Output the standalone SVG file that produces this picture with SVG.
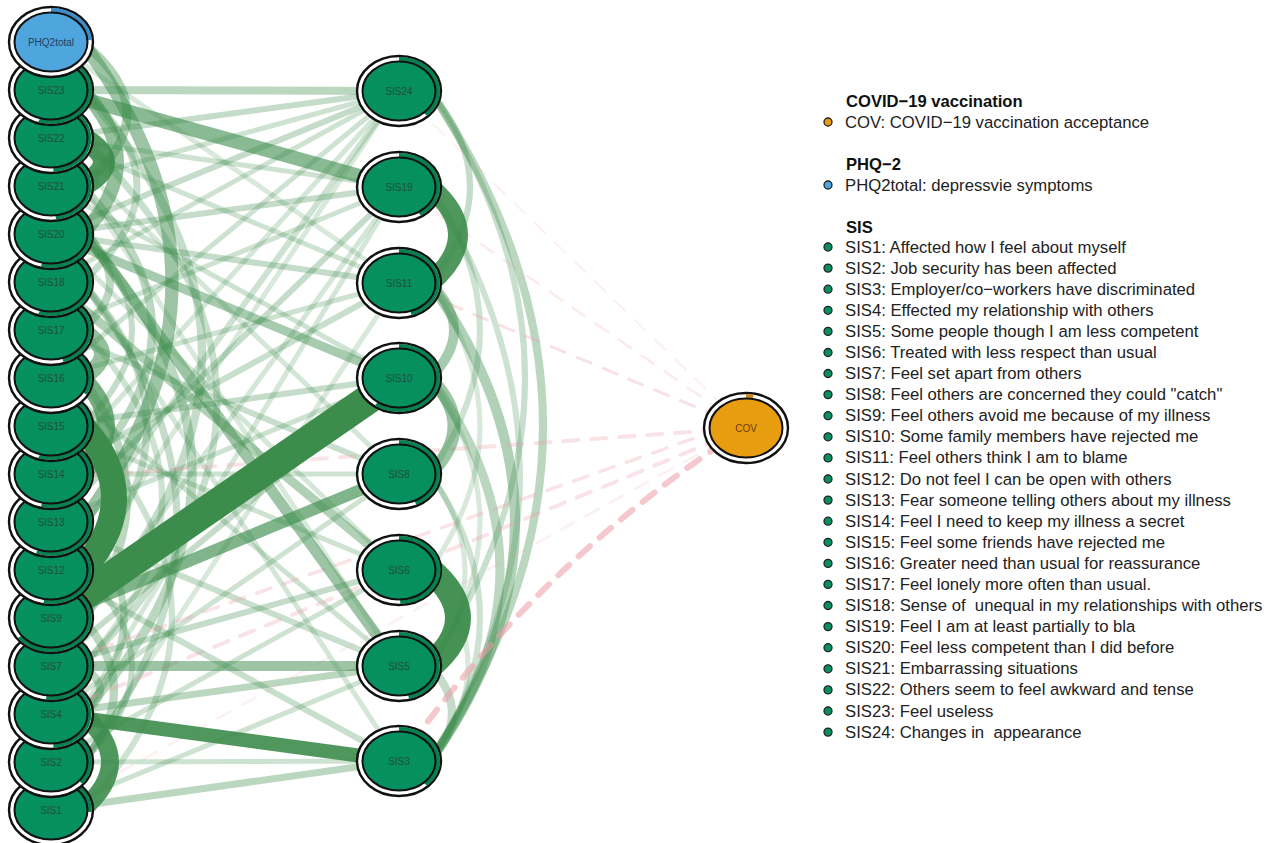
<svg xmlns="http://www.w3.org/2000/svg" width="1272" height="843" viewBox="0 0 1272 843">
<style>
.e{fill:none;stroke:#3c8c4b;stroke-linecap:butt}
.neg{fill:none;stroke:#ec9aa4;stroke-dasharray:15 13;stroke-linecap:round}
.ring{fill:#fff;stroke:#111;stroke-width:2.4}
.core{stroke:#111;stroke-width:2}
.sis .core{fill:#07905f}
.sis .pie{fill:#07804f}
.phq .core{fill:#4fa5dd}
.phq .pie{fill:#3a8bc8}
.cov .core{fill:#e89c0f}
.cov .pie{fill:#c98a1e}
.node text{font-family:"Liberation Sans",Arial,sans-serif;font-size:10px;text-anchor:middle}
.sis text{fill:#1f4f39}
.phq text{fill:#243f5c}
.cov text{fill:#6a3c12}
.lg{font-family:"Liberation Sans",Arial,sans-serif;font-size:16.7px;fill:#222;white-space:pre}
.lh{font-family:"Liberation Sans",Arial,sans-serif;font-size:16.6px;font-weight:bold;fill:#111}
.dot{stroke:#222;stroke-width:1.3}
</style>
<rect width="1272" height="843" fill="#fff"/>
<g id="edges">
<line class="e" x1="51" y1="138" x2="399" y2="91" stroke-width="6" stroke-opacity=".3"/>
<line class="e" x1="51" y1="186" x2="399" y2="91" stroke-width="5" stroke-opacity=".25"/>
<line class="e" x1="51" y1="234" x2="399" y2="91" stroke-width="6" stroke-opacity=".3"/>
<line class="e" x1="51" y1="282" x2="399" y2="91" stroke-width="5" stroke-opacity=".25"/>
<line class="e" x1="51" y1="378" x2="399" y2="91" stroke-width="5" stroke-opacity=".25"/>
<line class="e" x1="51" y1="474" x2="399" y2="91" stroke-width="5" stroke-opacity=".22"/>
<line class="e" x1="51" y1="570" x2="399" y2="91" stroke-width="6" stroke-opacity=".25"/>
<line class="e" x1="51" y1="618" x2="399" y2="91" stroke-width="5" stroke-opacity=".2"/>
<line class="e" x1="51" y1="138" x2="399" y2="187" stroke-width="5" stroke-opacity=".25"/>
<line class="e" x1="51" y1="234" x2="399" y2="187" stroke-width="6" stroke-opacity=".3"/>
<line class="e" x1="51" y1="330" x2="399" y2="187" stroke-width="5" stroke-opacity=".25"/>
<line class="e" x1="51" y1="522" x2="399" y2="187" stroke-width="6" stroke-opacity=".3"/>
<line class="e" x1="51" y1="666" x2="399" y2="187" stroke-width="5" stroke-opacity=".22"/>
<line class="e" x1="51" y1="762" x2="399" y2="187" stroke-width="5" stroke-opacity=".22"/>
<line class="e" x1="51" y1="42" x2="399" y2="283" stroke-width="5" stroke-opacity=".2"/>
<line class="e" x1="51" y1="138" x2="399" y2="283" stroke-width="5" stroke-opacity=".25"/>
<line class="e" x1="51" y1="234" x2="399" y2="283" stroke-width="6" stroke-opacity=".3"/>
<line class="e" x1="51" y1="378" x2="399" y2="283" stroke-width="5" stroke-opacity=".25"/>
<line class="e" x1="51" y1="474" x2="399" y2="283" stroke-width="6" stroke-opacity=".28"/>
<line class="e" x1="51" y1="810" x2="399" y2="283" stroke-width="5" stroke-opacity=".2"/>
<line class="e" x1="51" y1="186" x2="399" y2="378" stroke-width="5" stroke-opacity=".25"/>
<line class="e" x1="51" y1="426" x2="399" y2="378" stroke-width="6" stroke-opacity=".3"/>
<line class="e" x1="51" y1="522" x2="399" y2="378" stroke-width="5" stroke-opacity=".25"/>
<line class="e" x1="51" y1="666" x2="399" y2="378" stroke-width="6" stroke-opacity=".3"/>
<line class="e" x1="51" y1="138" x2="399" y2="474" stroke-width="5" stroke-opacity=".22"/>
<line class="e" x1="51" y1="330" x2="399" y2="474" stroke-width="6" stroke-opacity=".28"/>
<line class="e" x1="51" y1="474" x2="399" y2="474" stroke-width="5" stroke-opacity=".25"/>
<line class="e" x1="51" y1="714" x2="399" y2="474" stroke-width="5" stroke-opacity=".25"/>
<line class="e" x1="51" y1="234" x2="399" y2="570" stroke-width="5" stroke-opacity=".22"/>
<line class="e" x1="51" y1="426" x2="399" y2="570" stroke-width="5" stroke-opacity=".25"/>
<line class="e" x1="51" y1="666" x2="399" y2="570" stroke-width="6" stroke-opacity=".3"/>
<line class="e" x1="51" y1="762" x2="399" y2="570" stroke-width="5" stroke-opacity=".25"/>
<line class="e" x1="51" y1="138" x2="399" y2="666" stroke-width="5" stroke-opacity=".2"/>
<line class="e" x1="51" y1="378" x2="399" y2="666" stroke-width="5" stroke-opacity=".25"/>
<line class="e" x1="51" y1="522" x2="399" y2="666" stroke-width="6" stroke-opacity=".28"/>
<line class="e" x1="51" y1="810" x2="399" y2="666" stroke-width="5" stroke-opacity=".25"/>
<line class="e" x1="51" y1="714" x2="399" y2="666" stroke-width="7" stroke-opacity=".35"/>
<line class="e" x1="51" y1="234" x2="399" y2="761" stroke-width="5" stroke-opacity=".22"/>
<line class="e" x1="51" y1="570" x2="399" y2="761" stroke-width="6" stroke-opacity=".28"/>
<line class="e" x1="51" y1="762" x2="399" y2="761" stroke-width="5" stroke-opacity=".25"/>
<line class="e" x1="51" y1="810" x2="399" y2="761" stroke-width="7" stroke-opacity=".35"/>
<path class="e" d="M82,90 Q322,354 82,618" stroke-width="8" stroke-opacity=".3"/>
<path class="e" d="M82,138 Q352,402 82,666" stroke-width="7" stroke-opacity=".28"/>
<path class="e" d="M82,234 Q302,474 82,714" stroke-width="9" stroke-opacity=".35"/>
<path class="e" d="M82,282 Q272,522 82,762" stroke-width="7" stroke-opacity=".3"/>
<path class="e" d="M82,186 Q222,330 82,474" stroke-width="8" stroke-opacity=".35"/>
<path class="e" d="M82,378 Q172,498 82,618" stroke-width="8" stroke-opacity=".35"/>
<path class="e" d="M82,234 Q182,330 82,426" stroke-width="6" stroke-opacity=".3"/>
<path class="e" d="M82,522 Q166,618 82,714" stroke-width="7" stroke-opacity=".35"/>
<path class="e" d="M82,570 Q182,666 82,762" stroke-width="6" stroke-opacity=".3"/>
<path class="e" d="M82,282 Q212,426 82,570" stroke-width="7" stroke-opacity=".3"/>
<path class="e" d="M82,330 Q242,498 82,666" stroke-width="6" stroke-opacity=".25"/>
<path class="e" d="M82,426 Q262,618 82,810" stroke-width="6" stroke-opacity=".25"/>
<path class="e" d="M82,618 Q146,690 82,762" stroke-width="8" stroke-opacity=".35"/>
<path class="e" d="M82,666 Q118,690 82,714" stroke-width="8" stroke-opacity=".35"/>
<path class="e" d="M82,90 Q192,186 82,282" stroke-width="7" stroke-opacity=".3"/>
<path class="e" d="M82,234 Q138,282 82,330" stroke-width="8" stroke-opacity=".35"/>
<path class="e" d="M82,42 Q172,114 82,186" stroke-width="9" stroke-opacity=".4"/>
<path class="e" d="M82,42 Q262,282 82,522" stroke-width="13" stroke-opacity=".5"/>
<path class="e" d="M430,91 Q656,426 430,761" stroke-width="8" stroke-opacity=".35"/>
<path class="e" d="M430,91 Q620,378 430,666" stroke-width="6" stroke-opacity=".28"/>
<path class="e" d="M430,187 Q610,474 430,761" stroke-width="6" stroke-opacity=".25"/>
<path class="e" d="M430,283 Q600,522 430,761" stroke-width="10" stroke-opacity=".4"/>
<path class="e" d="M430,378 Q570,570 430,761" stroke-width="9" stroke-opacity=".35"/>
<path class="e" d="M430,91 Q510,187 430,283" stroke-width="6" stroke-opacity=".3"/>
<path class="e" d="M430,187 Q530,330 430,474" stroke-width="6" stroke-opacity=".25"/>
<path class="e" d="M430,283 Q530,426 430,570" stroke-width="5" stroke-opacity=".2"/>
<path class="e" d="M430,474 Q500,570 430,666" stroke-width="5" stroke-opacity=".2"/>
<path class="e" d="M430,378 Q530,522 430,666" stroke-width="5" stroke-opacity=".2"/>
<path class="e" d="M430,474 Q530,618 430,761" stroke-width="6" stroke-opacity=".25"/>
<path class="e" d="M430,666 Q474,713 430,761" stroke-width="8" stroke-opacity=".3"/>
<path class="e" d="M430,570 Q506,666 430,761" stroke-width="5" stroke-opacity=".2"/>
<line class="neg" x1="746" y1="428" x2="399" y2="91" stroke-width="2" stroke-opacity=".15"/>
<line class="neg" x1="746" y1="428" x2="399" y2="187" stroke-width="2.5" stroke-opacity=".2"/>
<line class="neg" x1="746" y1="428" x2="399" y2="283" stroke-width="3" stroke-opacity=".3"/>
<line class="neg" x1="746" y1="428" x2="51" y2="478" stroke-width="4" stroke-opacity=".28"/>
<line class="neg" x1="746" y1="420" x2="51" y2="666" stroke-width="3.5" stroke-opacity=".28"/>
<line class="neg" x1="746" y1="428" x2="51" y2="714" stroke-width="4" stroke-opacity=".28"/>
<line class="neg" x1="746" y1="428" x2="51" y2="810" stroke-width="2.5" stroke-opacity=".15"/>
<path class="neg" d="M746,428 Q540,560 399,761" stroke-width="6" stroke-opacity=".55"/>
<line class="e" x1="51" y1="90" x2="399" y2="91" stroke-width="8" stroke-opacity=".35"/>
<line class="e" x1="51" y1="234" x2="399" y2="378" stroke-width="9" stroke-opacity=".45"/>
<line class="e" x1="51" y1="282" x2="399" y2="570" stroke-width="9" stroke-opacity=".4"/>
<line class="e" x1="51" y1="186" x2="399" y2="666" stroke-width="11" stroke-opacity=".5"/>
<line class="e" x1="51" y1="666" x2="399" y2="666" stroke-width="10" stroke-opacity=".5"/>
<line class="e" x1="51" y1="90" x2="399" y2="187" stroke-width="14" stroke-opacity=".6"/>
<line class="e" x1="51" y1="618" x2="399" y2="474" stroke-width="12" stroke-opacity=".65"/>
<path class="e" d="M430,283 Q478,330 430,378" stroke-width="10" stroke-opacity=".45"/>
<path class="e" d="M430,378 Q478,426 430,474" stroke-width="13" stroke-opacity=".5"/>
<path class="e" d="M82,90 Q152,162 82,234" stroke-width="14" stroke-opacity=".55"/>
<path class="e" d="M82,330 Q122,354 82,378" stroke-width="16" stroke-opacity=".55"/>
<path class="e" d="M82,378 Q130,426 82,474" stroke-width="18" stroke-opacity=".7"/>
<path class="e" d="M82,138 Q126,162 82,186" stroke-width="22" stroke="#2f7d3c" stroke-opacity=".9"/>
<path class="e" d="M82,714 Q138,762 82,810" stroke-width="18" stroke="#4a9856" stroke-opacity=".9"/>
<path class="e" d="M430,187 Q486,235 430,283" stroke-width="20" stroke="#4a9958" stroke-opacity=".9"/>
<path class="e" d="M430,570 Q486,618 430,666" stroke-width="26" stroke="#3a8a46" stroke-opacity=".95"/>
<line class="e" x1="51" y1="714" x2="399" y2="761" stroke-width="14" stroke="#3d8b4a" stroke-opacity=".9"/>
<path class="e" d="M82,426 Q146,498 82,570" stroke-width="26" stroke="#236a2e"/>
<line class="e" x1="51" y1="618" x2="399" y2="378" stroke-width="30" stroke="#1f5d28"/>
</g>
<g id="nodes">
<g id="n-SIS1" class="node sis"><ellipse class="ring" cx="51" cy="810" rx="42" ry="35"/><path class="pie" d="M51,810 L51,776 A41,34 0 0 1 91.9,812.1 Z"/><ellipse class="core" cx="51" cy="810" rx="36.5" ry="29.5"/><text x="51" y="813.5">SIS1</text></g>
<g id="n-SIS2" class="node sis"><ellipse class="ring" cx="51" cy="762" rx="42" ry="35"/><path class="pie" d="M51,762 L51,728 A41,34 0 0 1 82.6,783.7 Z"/><ellipse class="core" cx="51" cy="762" rx="36.5" ry="29.5"/><text x="51" y="765.5">SIS2</text></g>
<g id="n-SIS4" class="node sis"><ellipse class="ring" cx="51" cy="714" rx="42" ry="35"/><path class="pie" d="M51,714 L51,680 A41,34 0 0 1 53.6,747.9 Z"/><ellipse class="core" cx="51" cy="714" rx="36.5" ry="29.5"/><text x="51" y="717.5">SIS4</text></g>
<g id="n-SIS7" class="node sis"><ellipse class="ring" cx="51" cy="666" rx="42" ry="35"/><path class="pie" d="M51,666 L51,632 A41,34 0 1 1 45.9,699.7 Z"/><ellipse class="core" cx="51" cy="666" rx="36.5" ry="29.5"/><text x="51" y="669.5">SIS7</text></g>
<g id="n-SIS9" class="node sis"><ellipse class="ring" cx="51" cy="618" rx="42" ry="35"/><path class="pie" d="M51,618 L51,584 A41,34 0 1 1 17.8,638 Z"/><ellipse class="core" cx="51" cy="618" rx="36.5" ry="29.5"/><text x="51" y="621.5">SIS9</text></g>
<g id="n-SIS12" class="node sis"><ellipse class="ring" cx="51" cy="570" rx="42" ry="35"/><path class="pie" d="M51,570 L51,536 A41,34 0 1 1 43.3,603.4 Z"/><ellipse class="core" cx="51" cy="570" rx="36.5" ry="29.5"/><text x="51" y="573.5">SIS12</text></g>
<g id="n-SIS13" class="node sis"><ellipse class="ring" cx="51" cy="522" rx="42" ry="35"/><path class="pie" d="M51,522 L51,488 A41,34 0 1 1 35.9,553.6 Z"/><ellipse class="core" cx="51" cy="522" rx="36.5" ry="29.5"/><text x="51" y="525.5">SIS13</text></g>
<g id="n-SIS14" class="node sis"><ellipse class="ring" cx="51" cy="474" rx="42" ry="35"/><path class="pie" d="M51,474 L51,440 A41,34 0 1 1 40.8,506.9 Z"/><ellipse class="core" cx="51" cy="474" rx="36.5" ry="29.5"/><text x="51" y="477.5">SIS14</text></g>
<g id="n-SIS15" class="node sis"><ellipse class="ring" cx="51" cy="426" rx="42" ry="35"/><path class="pie" d="M51,426 L51,392 A41,34 0 1 1 38.3,458.3 Z"/><ellipse class="core" cx="51" cy="426" rx="36.5" ry="29.5"/><text x="51" y="429.5">SIS15</text></g>
<g id="n-SIS16" class="node sis"><ellipse class="ring" cx="51" cy="378" rx="42" ry="35"/><path class="pie" d="M51,378 L51,344 A41,34 0 0 1 86.9,394.4 Z"/><ellipse class="core" cx="51" cy="378" rx="36.5" ry="29.5"/><text x="51" y="381.5">SIS16</text></g>
<g id="n-SIS17" class="node sis"><ellipse class="ring" cx="51" cy="330" rx="42" ry="35"/><path class="pie" d="M51,330 L51,296 A41,34 0 0 1 63.7,362.3 Z"/><ellipse class="core" cx="51" cy="330" rx="36.5" ry="29.5"/><text x="51" y="333.5">SIS17</text></g>
<g id="n-SIS18" class="node sis"><ellipse class="ring" cx="51" cy="282" rx="42" ry="35"/><path class="pie" d="M51,282 L51,248 A41,34 0 1 1 38.3,314.3 Z"/><ellipse class="core" cx="51" cy="282" rx="36.5" ry="29.5"/><text x="51" y="285.5">SIS18</text></g>
<g id="n-SIS20" class="node sis"><ellipse class="ring" cx="51" cy="234" rx="42" ry="35"/><path class="pie" d="M51,234 L51,200 A41,34 0 1 1 40.8,266.9 Z"/><ellipse class="core" cx="51" cy="234" rx="36.5" ry="29.5"/><text x="51" y="237.5">SIS20</text></g>
<g id="n-SIS21" class="node sis"><ellipse class="ring" cx="51" cy="186" rx="42" ry="35"/><path class="pie" d="M51,186 L51,152 A41,34 0 0 1 56.1,219.7 Z"/><ellipse class="core" cx="51" cy="186" rx="36.5" ry="29.5"/><text x="51" y="189.5">SIS21</text></g>
<g id="n-SIS22" class="node sis"><ellipse class="ring" cx="51" cy="138" rx="42" ry="35"/><path class="pie" d="M51,138 L51,104 A41,34 0 0 1 53.6,171.9 Z"/><ellipse class="core" cx="51" cy="138" rx="36.5" ry="29.5"/><text x="51" y="141.5">SIS22</text></g>
<g id="n-SIS23" class="node sis"><ellipse class="ring" cx="51" cy="90" rx="42" ry="35"/><path class="pie" d="M51,90 L51,56 A41,34 0 1 1 38.3,122.3 Z"/><ellipse class="core" cx="51" cy="90" rx="36.5" ry="29.5"/><text x="51" y="93.5">SIS23</text></g>
<g id="n-PHQ2total" class="node phq"><ellipse class="ring" cx="51" cy="42" rx="42" ry="35"/><path class="pie" d="M51,42 L51,8 A41,34 0 0 1 91.9,39.9 Z"/><ellipse class="core" cx="51" cy="42" rx="36.5" ry="29.5"/><text x="51" y="45.5">PHQ2total</text></g>
<g id="n-SIS24" class="node sis"><ellipse class="ring" cx="399" cy="91" rx="42" ry="35"/><path class="pie" d="M399,91 L399,57 A41,34 0 0 1 427.1,115.8 Z"/><ellipse class="core" cx="399" cy="91" rx="36.5" ry="29.5"/><text x="399" y="94.5">SIS24</text></g>
<g id="n-SIS19" class="node sis"><ellipse class="ring" cx="399" cy="187" rx="42" ry="35"/><path class="pie" d="M399,187 L399,153 A41,34 0 0 1 421,215.7 Z"/><ellipse class="core" cx="399" cy="187" rx="36.5" ry="29.5"/><text x="399" y="190.5">SIS19</text></g>
<g id="n-SIS11" class="node sis"><ellipse class="ring" cx="399" cy="283" rx="42" ry="35"/><path class="pie" d="M399,283 L399,249 A41,34 0 0 1 411.7,315.3 Z"/><ellipse class="core" cx="399" cy="283" rx="36.5" ry="29.5"/><text x="399" y="286.5">SIS11</text></g>
<g id="n-SIS10" class="node sis"><ellipse class="ring" cx="399" cy="378" rx="42" ry="35"/><path class="pie" d="M399,378 L399,344 A41,34 0 1 1 374.9,405.5 Z"/><ellipse class="core" cx="399" cy="378" rx="36.5" ry="29.5"/><text x="399" y="381.5">SIS10</text></g>
<g id="n-SIS8" class="node sis"><ellipse class="ring" cx="399" cy="474" rx="42" ry="35"/><path class="pie" d="M399,474 L399,440 A41,34 0 0 1 416.5,504.8 Z"/><ellipse class="core" cx="399" cy="474" rx="36.5" ry="29.5"/><text x="399" y="477.5">SIS8</text></g>
<g id="n-SIS6" class="node sis"><ellipse class="ring" cx="399" cy="570" rx="42" ry="35"/><path class="pie" d="M399,570 L399,536 A41,34 0 0 1 400.3,604 Z"/><ellipse class="core" cx="399" cy="570" rx="36.5" ry="29.5"/><text x="399" y="573.5">SIS6</text></g>
<g id="n-SIS5" class="node sis"><ellipse class="ring" cx="399" cy="666" rx="42" ry="35"/><path class="pie" d="M399,666 L399,632 A41,34 0 0 1 409.2,698.9 Z"/><ellipse class="core" cx="399" cy="666" rx="36.5" ry="29.5"/><text x="399" y="669.5">SIS5</text></g>
<g id="n-SIS3" class="node sis"><ellipse class="ring" cx="399" cy="761" rx="42" ry="35"/><path class="pie" d="M399,761 L399,727 A41,34 0 0 1 427.1,785.8 Z"/><ellipse class="core" cx="399" cy="761" rx="36.5" ry="29.5"/><text x="399" y="764.5">SIS3</text></g>
<g id="n-COV" class="node cov"><ellipse class="ring" cx="746" cy="428" rx="42" ry="35"/><path class="pie" d="M746,428 L746,394 A41,34 0 0 1 753.7,394.6 Z"/><ellipse class="core" cx="746" cy="428" rx="36.5" ry="29.5"/><text x="746" y="431.5">COV</text></g>
</g>
<g id="legend">
<text class="lh" x="846" y="107">COVID−19 vaccination</text>
<circle class="dot" cx="828" cy="122" r="4" fill="#e89c0f"/>
<text class="lg" x="845" y="128">COV: COVID−19 vaccination acceptance</text>
<text class="lh" x="846" y="170">PHQ−2</text>
<circle class="dot" cx="828" cy="185" r="4" fill="#4fa5dd"/>
<text class="lg" x="845" y="191">PHQ2total: depressvie symptoms</text>
<text class="lh" x="846" y="233">SIS</text>
<g fill="#07905f">
<circle class="dot" cx="828" cy="247" r="4"/>
<circle class="dot" cx="828" cy="268.1" r="4"/>
<circle class="dot" cx="828" cy="289.2" r="4"/>
<circle class="dot" cx="828" cy="310.3" r="4"/>
<circle class="dot" cx="828" cy="331.4" r="4"/>
<circle class="dot" cx="828" cy="352.5" r="4"/>
<circle class="dot" cx="828" cy="373.5" r="4"/>
<circle class="dot" cx="828" cy="394.6" r="4"/>
<circle class="dot" cx="828" cy="415.7" r="4"/>
<circle class="dot" cx="828" cy="436.8" r="4"/>
<circle class="dot" cx="828" cy="457.9" r="4"/>
<circle class="dot" cx="828" cy="479" r="4"/>
<circle class="dot" cx="828" cy="500.1" r="4"/>
<circle class="dot" cx="828" cy="521.2" r="4"/>
<circle class="dot" cx="828" cy="542.3" r="4"/>
<circle class="dot" cx="828" cy="563.4" r="4"/>
<circle class="dot" cx="828" cy="584.4" r="4"/>
<circle class="dot" cx="828" cy="605.5" r="4"/>
<circle class="dot" cx="828" cy="626.6" r="4"/>
<circle class="dot" cx="828" cy="647.7" r="4"/>
<circle class="dot" cx="828" cy="668.8" r="4"/>
<circle class="dot" cx="828" cy="689.9" r="4"/>
<circle class="dot" cx="828" cy="711" r="4"/>
<circle class="dot" cx="828" cy="732.1" r="4"/>
</g>
<text class="lg" x="845" y="252.5">SIS1: Affected how I feel about myself</text>
<text class="lg" x="845" y="273.6">SIS2: Job security has been affected</text>
<text class="lg" x="845" y="294.7">SIS3: Employer/co−workers have discriminated</text>
<text class="lg" x="845" y="315.8">SIS4: Effected my relationship with others</text>
<text class="lg" x="845" y="336.9">SIS5: Some people though I am less competent</text>
<text class="lg" x="845" y="358">SIS6: Treated with less respect than usual</text>
<text class="lg" x="845" y="379">SIS7: Feel set apart from others</text>
<text class="lg" x="845" y="400.1">SIS8: Feel others are concerned they could "catch"</text>
<text class="lg" x="845" y="421.2">SIS9: Feel others avoid me because of my illness</text>
<text class="lg" x="845" y="442.3">SIS10: Some family members have rejected me</text>
<text class="lg" x="845" y="463.4">SIS11: Feel others think I am to blame</text>
<text class="lg" x="845" y="484.5">SIS12: Do not feel I can be open with others</text>
<text class="lg" x="845" y="505.6">SIS13: Fear someone telling others about my illness</text>
<text class="lg" x="845" y="526.7">SIS14: Feel I need to keep my illness a secret</text>
<text class="lg" x="845" y="547.8">SIS15: Feel some friends have rejected me</text>
<text class="lg" x="845" y="568.9">SIS16: Greater need than usual for reassurance</text>
<text class="lg" x="845" y="589.9">SIS17: Feel lonely more often than usual.</text>
<text class="lg" x="845" y="611" xml:space="preserve">SIS18: Sense of  unequal in my relationships with others</text>
<text class="lg" x="845" y="632.1">SIS19: Feel I am at least partially to bla</text>
<text class="lg" x="845" y="653.2">SIS20: Feel less competent than I did before</text>
<text class="lg" x="845" y="674.3">SIS21: Embarrassing situations</text>
<text class="lg" x="845" y="695.4">SIS22: Others seem to feel awkward and tense</text>
<text class="lg" x="845" y="716.5">SIS23: Feel useless</text>
<text class="lg" x="845" y="737.6" xml:space="preserve">SIS24: Changes in  appearance</text>
</g>
</svg>
